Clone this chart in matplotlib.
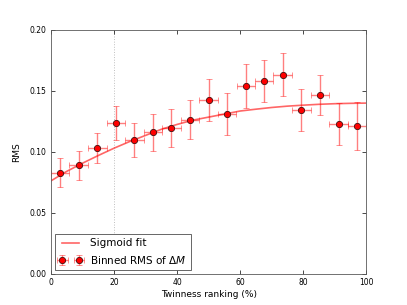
import numpy as np
import matplotlib
matplotlib.use('Agg')
import matplotlib.pyplot as plt

# binned points
rank = [2.9, 8.8, 14.7, 20.6, 26.5, 32.4, 38.2, 44.1, 50.0, 55.9,
        61.8, 67.6, 73.5, 79.4, 85.3, 91.2, 97.0]
rms = [0.0830, 0.0891, 0.1030, 0.1238, 0.1098, 0.1161, 0.1197, 0.1262, 0.1426, 0.1309,
       0.1538, 0.1579, 0.1634, 0.1344, 0.1467, 0.1230, 0.1213]
rms_err = [0.012, 0.012, 0.0125, 0.0137, 0.0138, 0.015, 0.0155, 0.016, 0.017, 0.017,
           0.018, 0.0172, 0.0176, 0.017, 0.0163, 0.0172, 0.0194]
rank_err = [2.94] * 17

# sigmoid fit curve, sampled from the chart
fit_x = [0, 5, 10, 15, 20, 25, 30, 35, 40, 45, 50, 55, 60, 65, 70, 75, 80, 85, 90, 95, 100]
fit_y = [0.0762, 0.0840, 0.0907, 0.0970, 0.1030, 0.1085, 0.1135, 0.1185, 0.1225, 0.1260,
         0.1285, 0.1310, 0.1335, 0.1350, 0.1364, 0.1375, 0.1383, 0.1390, 0.1395, 0.1398, 0.1400]

plt.rcParams['xtick.direction'] = 'in'
plt.rcParams['ytick.direction'] = 'in'
plt.rcParams['xtick.top'] = True
plt.rcParams['ytick.right'] = True

fig = plt.figure(figsize=(4.07, 3.05), dpi=100)
ax = fig.add_axes([0.125, 0.102, 0.775, 0.800])

ax.axvline(20, color='0.75', ls=':', lw=0.7, zorder=0)
ax.plot(fit_x, fit_y, color='red', alpha=0.6, lw=1.2, label='Sigmoid fit')
ax.errorbar(rank, rms, yerr=rms_err, xerr=rank_err, fmt='o', color='red',
            ecolor=(1, 0, 0, 0.5), elinewidth=1.0, capsize=2.5, capthick=0.8,
            ms=4.5, mec='#401010', mew=0.6, label=r'Binned RMS of $\Delta M$')

ax.set_xlim(0, 100)
ax.set_ylim(0, 0.20)
ax.set_xticks([0, 20, 40, 60, 80, 100])
ax.set_yticks([0.00, 0.05, 0.10, 0.15, 0.20])
ax.set_yticklabels(['0.00', '0.05', '0.10', '0.15', '0.20'])
ax.tick_params(labelsize=5.5, length=3, width=0.5, pad=3)
for s in ax.spines.values():
    s.set_linewidth(0.6)
    s.set_color('0.35')
ax.set_xlabel('Twinness ranking (%)', fontsize=6.5, labelpad=2)
ax.set_ylabel('RMS', fontsize=6.5, labelpad=6)

leg = ax.legend(loc='lower left', numpoints=2, fontsize=7.5, fancybox=False,
                framealpha=1, borderaxespad=0.4, handlelength=2.2)
leg.get_frame().set_edgecolor('0.3')
leg.get_frame().set_linewidth(0.6)

plt.savefig('out.png', dpi=100)
